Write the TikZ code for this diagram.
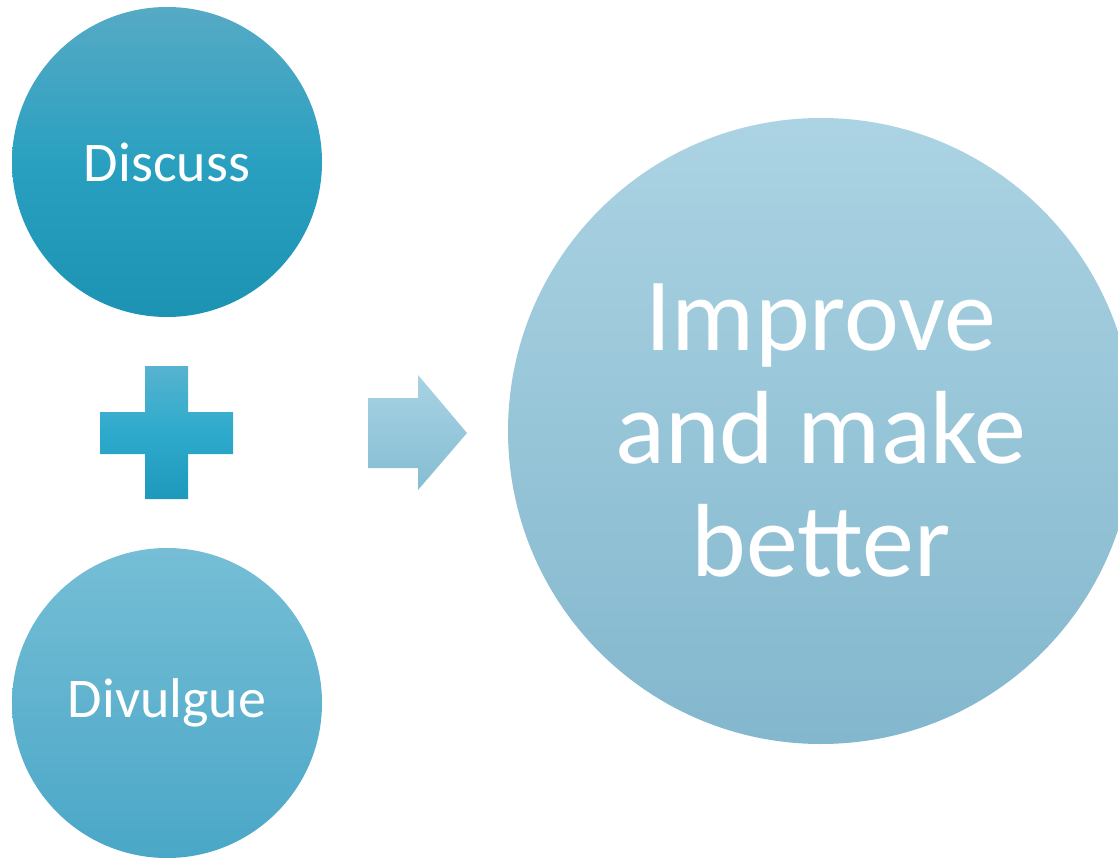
\documentclass[tikz,border=0pt]{standalone}
\usepackage{fontspec}
\setmainfont{Carlito}
\definecolor{dtop}{HTML}{56AAC5}
\definecolor{dmid}{HTML}{2AA0C0}
\definecolor{dbot}{HTML}{1D93B4}
\definecolor{vtop}{HTML}{76BED6}
\definecolor{vbot}{HTML}{4AA7C7}
\definecolor{ptop}{HTML}{57B3CF}
\definecolor{pmid}{HTML}{2EAACC}
\definecolor{pbot}{HTML}{1F99BB}
\definecolor{atop}{HTML}{A7D3E4}
\definecolor{abot}{HTML}{86BDD2}
\definecolor{btop}{HTML}{ABD3E3}
\definecolor{bbot}{HTML}{83B7CD}
\tikzset{
  ball/.style={circle, draw=none, inner sep=0pt, text=white, align=center},
  smallball/.style={ball, minimum size=310pt, font=\fontsize{56}{67}\selectfont},
  bigball/.style={ball, minimum size=626pt, font=\fontsize{104}{113}\selectfont}
}
\begin{document}
\begin{tikzpicture}[x=1pt,y=-1pt]
\useasboundingbox (0,0) rectangle (1118,858);
\begin{scope}
\clip (0,0) rectangle (1118,858);
\node[smallball, top color=dtop, bottom color=dbot, middle color=dmid] (discuss) at (167,162) {Discuss};
\node[smallball, top color=vtop, bottom color=vbot] (divulgue) at (167,703) {Divulgue};
\node[bigball, top color=btop, bottom color=bbot] (improve) at (821,431) {Improve\\and make\\better};
\shade[top color=ptop, bottom color=pbot, middle color=pmid]
  (145,366) -- (188,366) -- (188,412) -- (233,412) -- (233,454) -- (188,454)
  -- (188,499) -- (145,499) -- (145,454) -- (100,454) -- (100,412) -- (145,412) -- cycle;
\shade[top color=atop, bottom color=abot]
  (368,398) -- (418,398) -- (418,375) -- (467,433) -- (418,490) -- (418,468) -- (368,468) -- cycle;
\end{scope}
\end{tikzpicture}
\end{document}
